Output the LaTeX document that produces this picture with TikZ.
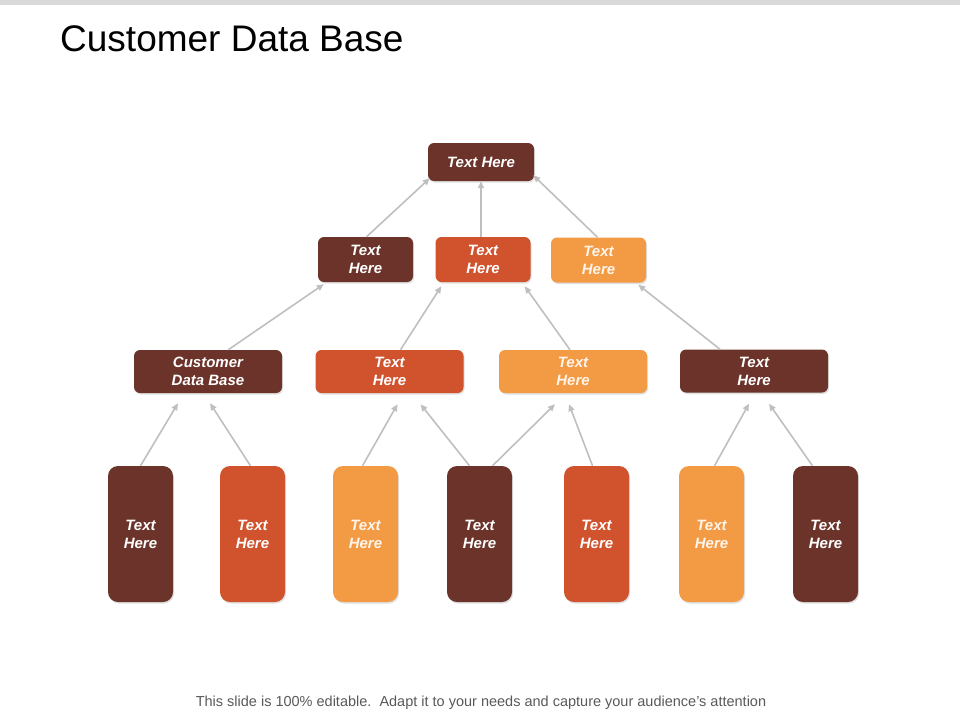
\documentclass[tikz,border=0pt]{standalone}
\usepackage{fontspec}
\setmainfont{Liberation Sans}
\usetikzlibrary{arrows.meta,shadows,calc}
\definecolor{cdark}{HTML}{6B3329}
\definecolor{cred}{HTML}{D0532E}
\definecolor{clight}{HTML}{F39A45}
\definecolor{cline}{HTML}{BFBFBF}
\definecolor{cbar}{HTML}{D9D9D9}
\definecolor{cfoot}{HTML}{595959}
\tikzset{
  box/.style={rounded corners=6pt, inner sep=0pt, text=white,
    font=\fontsize{15}{18}\selectfont\bfseries\itshape, align=center,
    drop shadow={opacity=0.25, shadow xshift=1pt, shadow yshift=-1.5pt}},
  wide/.style={box, minimum width=106pt, minimum height=38pt},
  mid/.style={box, minimum width=95pt, minimum height=45pt},
  long/.style={box, minimum width=148pt, minimum height=43pt},
  tall/.style={box, rounded corners=10pt, minimum width=65pt, minimum height=136pt},
  dk/.style={fill=cdark},
  rd/.style={fill=cred},
  lt/.style={fill=clight, text=white!92!orange},
  conn/.style={draw=cline, line width=1.6pt, -{Triangle[length=7pt,width=6pt]}},
}
\begin{document}
\begin{tikzpicture}[x=1pt,y=-1pt]
\useasboundingbox (0,0) rectangle (960,720);
\fill[cbar] (0,0) rectangle (960,5);
\node[anchor=base west, font=\fontsize{37}{42}\selectfont, inner sep=0pt] (title) at (60,51) {Customer Data Base};
\node[anchor=base, font=\fontsize{14.5}{16}\selectfont, text=cfoot, inner sep=0pt] (foot) at (481,706) {This slide is 100\% editable.\ \ Adapt it to your needs and capture your audience's attention};

% level 1
\node[wide, dk] (t) at (481,162) {Text Here};
% level 2
\node[mid, dk] (a1) at (365.5,259.5) {Text\\Here};
\node[mid, rd] (a2) at (483,259.5) {Text\\Here};
\node[mid, lt] (a3) at (598.5,260) {Text\\Here};
% level 3
\node[long, dk] (b1) at (208,371.5) {Customer\\Data Base};
\node[long, rd] (b2) at (389.5,371.5) {Text\\Here};
\node[long, lt] (b3) at (573,371.5) {Text\\Here};
\node[long, dk] (b4) at (754,371) {Text\\Here};
% level 4
\node[tall, dk] (c1) at (140.5,534) {Text\\Here};
\node[tall, rd] (c2) at (252.5,534) {Text\\Here};
\node[tall, lt] (c3) at (365.5,534) {Text\\Here};
\node[tall, dk] (c4) at (479.5,534) {Text\\Here};
\node[tall, rd] (c5) at (596.5,534) {Text\\Here};
\node[tall, lt] (c6) at (711.5,534) {Text\\Here};
\node[tall, dk] (c7) at (825.5,534) {Text\\Here};

% arrow tips
\coordinate (pt1) at ($(t.south west)+(2,-3)$);
\coordinate (pt3) at ($(t.south east)+(-1,-6)$);
\coordinate (pa1) at ($(a1.south west)+(6,2)$);
\coordinate (pa2l) at ($(a2.south west)+(6,4)$);
\coordinate (pa2r) at ($(a2.south east)+(-6,4)$);
\coordinate (pa3) at ($(a3.south east)+(-8,2)$);
\coordinate (q1l) at ($(b1.south)+(-30,10)$);
\coordinate (q1r) at ($(b1.south)+(2,10)$);
\coordinate (q2l) at ($(b2.south)+(8,11)$);
\coordinate (q2r) at ($(b2.south)+(31,11)$);
\coordinate (q3l) at ($(b3.south)+(-18,11)$);
\coordinate (q3r) at ($(b3.south)+(-4,11)$);
\coordinate (q4l) at ($(b4.south)+(-5,11)$);
\coordinate (q4r) at ($(b4.south)+(15,11)$);

\draw[conn] ([xshift=1pt]a1.north) -- (pt1);
\draw[conn] ([xshift=-2pt]a2.north) -- (t.south);
\draw[conn] ([xshift=-1pt]a3.north) -- (pt3);

\draw[conn] ([xshift=-54pt]b1.north east) -- (pa1);
\draw[conn] ([xshift=11pt]b2.north) -- (pa2l);
\draw[conn] ([xshift=-3pt]b3.north) -- (pa2r);
\draw[conn] ([xshift=-34pt]b4.north) -- (pa3);

\draw[conn] ([xshift=0pt]c1.north) -- (q1l);
\draw[conn] ([xshift=-2pt]c2.north) -- (q1r);
\draw[conn] ([xshift=-3pt]c3.north) -- (q2l);
\draw[conn] ([xshift=-10pt]c4.north) -- (q2r);
\draw[conn] ([xshift=13pt]c4.north) -- (q3l);
\draw[conn] ([xshift=-4pt]c5.north) -- (q3r);
\draw[conn] ([xshift=3pt]c6.north) -- (q4l);
\draw[conn] ([xshift=-13pt]c7.north) -- (q4r);
\end{tikzpicture}
\end{document}
